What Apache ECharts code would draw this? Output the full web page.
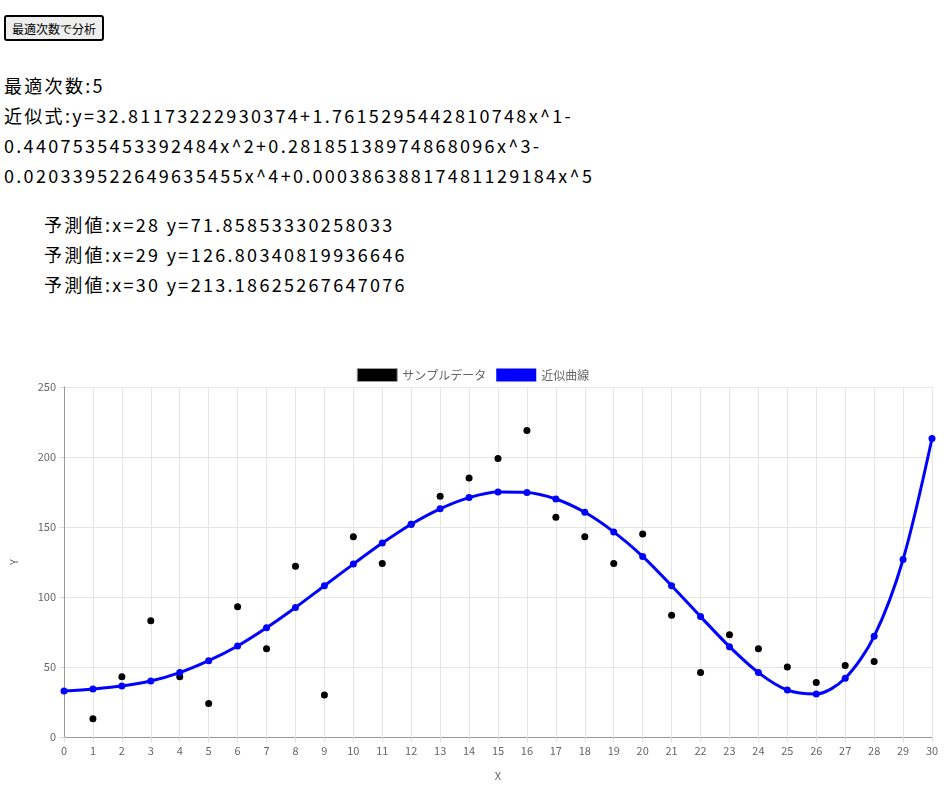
<!DOCTYPE html>
<html><head><meta charset="utf-8">
<script src="https://cdn.jsdelivr.net/npm/echarts@6/dist/echarts.min.js"></script>
<style>
body{margin:0;font-family:"Noto Sans CJK JP",sans-serif;color:#000}
#btn{position:absolute;left:4px;top:15px;height:26px;padding:0 6px;font-size:12px;font-family:"Noto Sans CJK JP";border:2px solid #000;border-radius:3px;background:#eee}
.t{position:absolute;left:4px;font-size:18px;line-height:30px;white-space:nowrap;letter-spacing:2.3px}
#chart{position:absolute;left:0;top:355px;width:946px;height:444px}
</style></head><body>
<button id="btn">最適次数で分析</button>
<div class="t" style="top:70px">最適次数:5<br>近似式:y=32.81173222930374+1.7615295442810748x^1-<br>0.4407535453392484x^2+0.28185138974868096x^3-<br>0.020339522649635455x^4+0.00038638817481129184x^5</div>
<div class="t" style="top:209px;left:44px">予測値:x=28 y=71.85853330258033<br>予測値:x=29 y=126.80340819936646<br>予測値:x=30 y=213.18625267647076</div>
<div id="chart"></div>
<script>
var sampleX = [1,2,3,4,5,6,7,8,9,10,11,12,13,14,15,16,17,18,19,20,21,22,23,24,25,26,27,28];
var sampleY = [13,43,83,43,24,93,63,122,30,143,124,152,172,185,199,219,157,143,124,145,87,46,73,63,50,39,51,54];
var curveX = [0,1,2,3,4,5,6,7,8,9,10,11,12,13,14,15,16,17,18,19,20,21,22,23,24,25,26,27,28,29,30];
var curveY = [32.8,34.3,36.4,40,46,54.5,65,78,92.5,108,123.5,138.5,152,163,171,175,174.7,170,160.5,146.5,129,108,86,64.5,46,33.5,30.8,42,71.9,126.8,213.2];

var chart = echarts.init(document.getElementById('chart'));
var axisText = {color:'#666',fontSize:11,fontFamily:'Noto Sans CJK JP'};
chart.setOption({
  animation:false,
  legend:{top:8,itemWidth:40,itemHeight:13,itemGap:10,textStyle:{color:'#666',fontSize:12,fontFamily:'Noto Sans CJK JP'},
    data:[{name:'サンプルデータ',icon:'rect',itemStyle:{color:'#000',opacity:1,borderColor:'#999',borderWidth:1}},{name:'近似曲線',icon:'rect',itemStyle:{color:'#0000ff'}}]},
  grid:{left:62,right:14,top:32,bottom:62},
  xAxis:{type:'value',min:0,max:30,interval:1,name:'X',nameLocation:'middle',nameGap:33,nameTextStyle:axisText,
    axisLabel:axisText,axisLine:{lineStyle:{color:'#999'}},axisTick:{show:true,length:5,lineStyle:{color:'#ddd'}},splitLine:{lineStyle:{color:'#e5e5e5'}}},
  yAxis:{type:'value',min:0,max:250,interval:50,name:'Y',nameLocation:'middle',nameGap:45,nameTextStyle:axisText,
    axisLabel:axisText,axisLine:{show:true,lineStyle:{color:'#999'}},axisTick:{show:true,length:5,lineStyle:{color:'#ddd'}},splitLine:{lineStyle:{color:'#e5e5e5'}}},
  series:[
    {name:'サンプルデータ',type:'scatter',symbolSize:7,itemStyle:{color:'#000',opacity:1},
      data:sampleX.map(function(x,i){return [x,sampleY[i]];})},
    {name:'近似曲線',type:'line',smooth:0.3,symbol:'circle',symbolSize:7,lineStyle:{color:'#0000ff',width:3},itemStyle:{color:'#0000ff'},
      data:curveX.map(function(x,i){return [x,curveY[i]];})}
  ]
});
</script>
</body></html>
